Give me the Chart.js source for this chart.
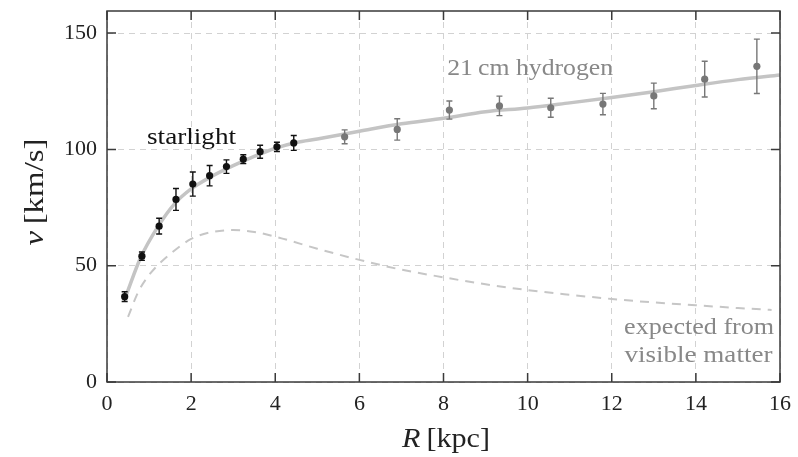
<!DOCTYPE html>
<html><head><meta charset="utf-8">
<script src="https://cdn.jsdelivr.net/npm/chart.js@4.4.0/dist/chart.umd.min.js"></script>
<style>html,body{margin:0;padding:0;background:#fff;}#wrap{width:798px;height:457px;}</style>
</head><body><div id="wrap"><canvas id="c" width="798" height="457"></canvas></div>
<script>
// ---- data ----
const X_TICKS = [0, 2, 4, 6, 8, 10, 12, 14, 16];
const Y_TICKS = [0, 50, 100, 150];

// starlight measurements
const R_STAR = [0.42, 0.83, 1.24, 1.64, 2.04, 2.44, 2.84, 3.24, 3.64, 4.04, 4.44];
const V_STAR = [36.7, 54.1, 67.0, 78.5, 85.1, 88.7, 92.6, 95.8, 99.0, 101.1, 102.8];
const E_STAR = [2.1, 1.8, 3.4, 4.7, 5.2, 4.4, 2.9, 1.9, 2.8, 2.0, 3.2];

// 21 cm hydrogen measurements
const R_HI = [5.65, 6.90, 8.14, 9.33, 10.55, 11.79, 13.0, 14.21, 15.45];
const V_HI = [105.4, 108.6, 116.9, 118.7, 117.9, 119.5, 123.0, 130.2, 135.7];
const E_HI = [3.0, 4.6, 3.9, 4.2, 4.1, 4.6, 5.5, 7.7, 11.7];

// fitted rotation curve
const R_FIT = [0.45, 0.8, 1.2, 1.6, 2.0, 2.5, 3.0, 3.5, 4.0, 4.5, 5.0, 6.0, 7.0, 8.0, 9.0, 10.0, 11.0, 12.0, 13.0, 14.0, 15.0, 16.0];
const V_FIT = [37, 53.5, 66.5, 76.5, 83, 88.5, 93, 97, 100.5, 103, 104.5, 107.8, 111, 113.4, 116.2, 117.8, 120, 122.3, 124.8, 127.5, 130, 132];

// expected from visible matter
const R_VIS = [0.5, 0.75, 1.0, 1.25, 1.5, 2.0, 2.5, 3.0, 3.5, 4.0, 5.0, 6.0, 7.0, 8.0, 9.0, 10.0, 11.0, 12.0, 13.0, 14.0, 15.0, 15.8];
const V_VIS = [28, 39, 46, 51, 55, 61.5, 64.5, 65.3, 64.5, 62.5, 57.3, 52.5, 48.3, 45, 42, 39.5, 37.5, 35.7, 34.2, 33, 31.8, 31];

// labels
const LABEL_STAR = 'starlight';
const LABEL_HI = '21\u2009cm hydrogen';
const LABEL_VIS = ['expected from', 'visible matter'];

const SERIF = '"Liberation Serif", "DejaVu Serif", serif';
const pts = (xs, ys) => xs.map((x, i) => ({ x: x, y: ys[i] }));

// draw text parts ([text, italic]) horizontally scaled to span a target width
function stretchParts(ctx, parts, size, target, x, y, align) {
  let nat = 0;
  const ws = parts.map(p => {
    ctx.font = (p[1] ? 'italic ' : '') + size + 'px ' + SERIF;
    const w = ctx.measureText(p[0]).width; nat += w; return w;
  });
  const k = target / nat;
  let left = x;
  if (align === 'center') left = x - target / 2;
  else if (align === 'right') left = x - target;
  ctx.save();
  ctx.translate(left, y);
  ctx.scale(k, 1);
  ctx.textAlign = 'left';
  let cx = 0;
  parts.forEach((p, i) => {
    ctx.font = (p[1] ? 'italic ' : '') + size + 'px ' + SERIF;
    ctx.fillText(p[0], cx, 0);
    cx += ws[i];
  });
  ctx.restore();
}

const decor = {
  id: 'decor',
  afterDatasetsDraw(chart) {
    const ctx = chart.ctx, xs = chart.scales.x, ys = chart.scales.y;
    const bars = (R, V, E, col) => {
      ctx.save();
      ctx.strokeStyle = col; ctx.lineWidth = 1.4;
      R.forEach((r, i) => {
        const px = xs.getPixelForValue(r);
        const y1 = ys.getPixelForValue(V[i] - E[i]);
        const y2 = ys.getPixelForValue(V[i] + E[i]);
        ctx.beginPath();
        ctx.moveTo(px, y1); ctx.lineTo(px, y2);
        ctx.moveTo(px - 3, y1); ctx.lineTo(px + 3, y1);
        ctx.moveTo(px - 3, y2); ctx.lineTo(px + 3, y2);
        ctx.stroke();
      });
      ctx.restore();
    };
    bars(R_STAR, V_STAR, E_STAR, '#111');
    bars(R_HI, V_HI, E_HI, '#777');
  },
  afterDraw(chart) {
    const ctx = chart.ctx, a = chart.chartArea, xs = chart.scales.x, ys = chart.scales.y;
    ctx.save();
    // frame
    ctx.strokeStyle = '#3a3a3a'; ctx.lineWidth = 1.5;
    ctx.strokeRect(a.left, a.top, a.right - a.left, a.bottom - a.top);
    // inward ticks
    const tl = 9;
    ctx.beginPath();
    X_TICKS.forEach(v => {
      const p = xs.getPixelForValue(v);
      ctx.moveTo(p, a.bottom); ctx.lineTo(p, a.bottom - tl);
      ctx.moveTo(p, a.top); ctx.lineTo(p, a.top + tl);
    });
    Y_TICKS.forEach(v => {
      const p = ys.getPixelForValue(v);
      ctx.moveTo(a.left, p); ctx.lineTo(a.left + tl, p);
      ctx.moveTo(a.right, p); ctx.lineTo(a.right - tl, p);
    });
    ctx.stroke();

    // axis titles
    ctx.fillStyle = '#222';
    ctx.textBaseline = 'middle';
    ctx.save();
    ctx.translate(36, 192);
    ctx.rotate(-Math.PI / 2);
    stretchParts(ctx, [['v', true], ['\u2009[km/s]', false]], 28, 107, 0, 0, 'center');
    ctx.restore();
    stretchParts(ctx, [['R', true], ['\u2009[kpc]', false]], 27, 88, 446, 440, 'center');

    // annotations
    ctx.textBaseline = 'alphabetic';
    ctx.fillStyle = '#111';
    stretchParts(ctx, [[LABEL_STAR, false]], 24, 89, xs.getPixelForValue(2.01), ys.getPixelForValue(102.3), 'center');
    ctx.fillStyle = '#888';
    stretchParts(ctx, [[LABEL_HI, false]], 23, 166, xs.getPixelForValue(10.06), ys.getPixelForValue(132), 'center');
    stretchParts(ctx, [[LABEL_VIS[0], false]], 22.5, 150, xs.getPixelForValue(15.86), ys.getPixelForValue(20.5), 'right');
    stretchParts(ctx, [[LABEL_VIS[1], false]], 22.5, 148, xs.getPixelForValue(15.82), ys.getPixelForValue(8.8), 'right');
    ctx.restore();
  }
};

new Chart(document.getElementById('c'), {
  type: 'scatter',
  data: {
    datasets: [
      { label: 'fit', data: pts(R_FIT, V_FIT), showLine: true, borderColor: '#c4c4c4', borderWidth: 3.5,
        pointRadius: 0, cubicInterpolationMode: 'monotone', order: 3 },
      { label: 'visible', data: pts(R_VIS, V_VIS), showLine: true, borderColor: '#c6c6c6', borderWidth: 2,
        borderDash: [9, 7], pointRadius: 0, cubicInterpolationMode: 'monotone', order: 4 },
      { label: 'starlight', data: pts(R_STAR, V_STAR), pointRadius: 3.6, backgroundColor: '#111',
        borderWidth: 0, order: 1 },
      { label: 'hydrogen', data: pts(R_HI, V_HI), pointRadius: 3.6, backgroundColor: '#777',
        borderWidth: 0, order: 1 }
    ]
  },
  options: {
    responsive: false, devicePixelRatio: 1, animation: false,
    layout: { padding: { top: 11, right: 18, left: 0, bottom: 0 } },
    plugins: { legend: { display: false }, tooltip: { enabled: false } },
    scales: {
      x: {
        type: 'linear', min: 0, max: 16,
        afterBuildTicks: s => { s.ticks = X_TICKS.map(v => ({ value: v })); },
        afterFit: s => { s.height = 75; s.paddingLeft = 0; s.paddingRight = 0; },
        ticks: { font: { family: SERIF, size: 22 }, color: '#222', padding: 9, maxRotation: 0 },
        grid: { color: '#d2d2d2', lineWidth: 1, drawTicks: false },
        border: { display: false, dash: [6, 5] }
      },
      y: {
        type: 'linear', min: 0, max: 159.5,
        afterBuildTicks: s => { s.ticks = Y_TICKS.map(v => ({ value: v })); },
        afterFit: s => { s.width = 107; s.paddingTop = 0; s.paddingBottom = 0; },
        ticks: { font: { family: SERIF, size: 22 }, color: '#222', padding: 10 },
        grid: { color: '#d2d2d2', lineWidth: 1, drawTicks: false },
        border: { display: false, dash: [6, 5] }
      }
    }
  },
  plugins: [decor]
});
</script></body></html>
